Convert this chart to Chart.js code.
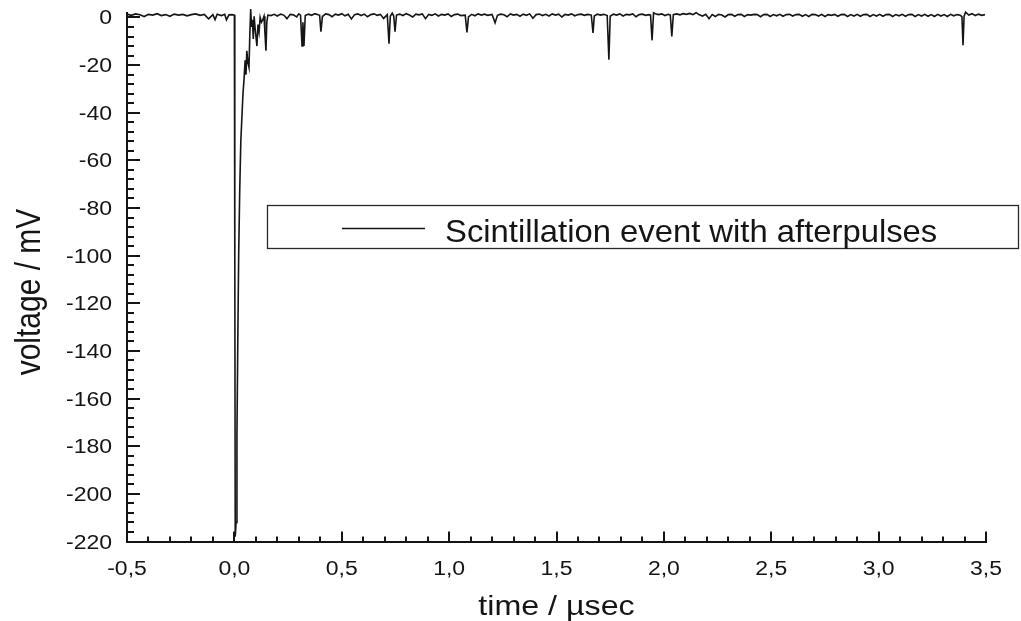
<!DOCTYPE html>
<html>
<head>
<meta charset="utf-8">
<title>Scintillation event with afterpulses</title>
<script src="https://cdn.jsdelivr.net/npm/chart.js@4/dist/chart.umd.min.js"></script>
<style>
  html, body { margin: 0; padding: 0; background: #ffffff; }
  canvas { display: block; }
</style>
</head>
<body>
<canvas id="trace" width="1021" height="621"></canvas>
<script>
// Oscilloscope trace of a PMT signal: [time in µs, voltage in mV]

// baseline before the trigger
const preTrigger = [
  [-0.500, 1.4], [-0.480, 0.9], [-0.460, 1.5], [-0.440, 1.1], [-0.420, 0.4],
  [-0.400, 1.3], [-0.380, 1.0], [-0.360, 1.6], [-0.340, 0.8], [-0.320, 1.2],
  [-0.300, 0.5], [-0.280, 1.4], [-0.260, 1.0], [-0.240, 1.3], [-0.220, 0.7],
  [-0.200, 1.2], [-0.180, 1.5], [-0.160, 0.9], [-0.140, 1.3], [-0.120, -0.6],
  [-0.100, 1.2], [-0.090, -0.9], [-0.080, 1.4], [-0.060, 0.8], [-0.045, 1.3],
  [-0.037, -1.0], [-0.025, 1.1], [-0.010, 1.2], [0.000, 1.0]
];

// main scintillation pulse and its ringing
const mainPulse = [
  [0.002, -100], [0.004, -218], [0.008, -212], [0.012, -175], [0.016, -135],
  [0.020, -100], [0.025, -72], [0.030, -52], [0.035, -42], [0.040, -32],
  [0.045, -26], [0.050, -18], [0.054, -24], [0.058, -14], [0.063, -19],
  [0.068, -21], [0.072, -7], [0.076, 3.5], [0.080, -4], [0.084, -1],
  [0.088, -9], [0.092, 0.5], [0.097, -5], [0.105, -12], [0.110, -3],
  [0.115, -6], [0.120, 0.0], [0.126, -2], [0.132, -1], [0.138, 0.5],
  [0.142, -6], [0.147, -14], [0.151, -2], [0.156, 1.0]
];

// afterpulses on the baseline after the event
const afterpulses = [
  [0.170, 0.8], [0.185, 1.3], [0.200, 0.6], [0.215, 1.4], [0.230, 1.0],
  [0.245, -0.5], [0.260, 1.3], [0.275, 1.1], [0.290, 0.2], [0.300, 1.5],
  [0.308, 1.0], [0.315, -12], [0.319, -2], [0.324, -12], [0.330, 0.8],
  [0.345, 1.4], [0.360, 0.9], [0.375, 1.6], [0.390, 1.1], [0.397, 0.9],
  [0.403, -6], [0.410, 0.4], [0.425, 1.5], [0.440, 1.2], [0.455, 0.3],
  [0.470, 1.4], [0.485, 1.0], [0.500, 1.6], [0.515, 0.7], [0.530, 1.3],
  [0.545, -0.6], [0.560, 1.2], [0.575, 1.5], [0.590, 0.8], [0.605, 1.4],
  [0.620, 0.3], [0.635, 1.2], [0.650, 1.5], [0.665, 0.9], [0.680, 1.3],
  [0.695, -0.4], [0.712, 1.2], [0.720, -11], [0.726, 0.5], [0.735, 1.8],
  [0.742, 0.6], [0.748, -6], [0.755, 1.0], [0.770, 1.4], [0.785, 0.8],
  [0.800, 1.6], [0.815, 1.0], [0.830, 0.2], [0.845, 1.4], [0.860, 1.1],
  [0.875, 1.5], [0.890, -0.5], [0.905, 1.3], [0.920, 0.9], [0.935, 1.5],
  [0.950, 0.6], [0.965, 1.3], [0.980, 1.0], [0.995, 1.5], [1.010, 0.4],
  [1.025, 1.2], [1.040, 1.4], [1.055, 0.8], [1.075, 1.0], [1.083, -6.3],
  [1.090, 0.2], [1.105, 1.3], [1.120, 0.7], [1.135, 1.5], [1.150, 1.0],
  [1.165, 1.4], [1.180, 0.9], [1.200, 1.3], [1.214, -2.2], [1.225, 0.9],
  [1.240, 1.4], [1.255, 1.1], [1.270, 0.3], [1.285, 1.5], [1.300, 1.0],
  [1.315, 1.3], [1.330, 0.5], [1.345, 1.4], [1.360, 0.9], [1.375, 1.5],
  [1.390, -0.3], [1.405, 1.2], [1.420, 1.4], [1.435, 0.8], [1.450, 1.3],
  [1.465, 0.6], [1.480, 1.5], [1.495, 1.0], [1.510, 1.4], [1.525, 0.2],
  [1.540, 1.3], [1.555, 1.0], [1.570, 1.5], [1.585, 0.7], [1.600, 1.2],
  [1.615, 1.4], [1.630, 0.9], [1.645, 1.3], [1.662, 1.0], [1.670, -6.5],
  [1.676, 0.6], [1.690, 1.4], [1.705, 1.0], [1.720, 1.3], [1.736, 0.8],
  [1.744, -17.7], [1.750, 0.5], [1.765, 1.4], [1.780, 1.0], [1.795, 1.5],
  [1.810, 0.6], [1.825, 1.3], [1.840, 1.1], [1.855, 1.5], [1.870, 0.3],
  [1.885, 1.2], [1.900, 1.4], [1.915, 0.9], [1.930, 1.2], [1.938, 1.0],
  [1.945, -9.6], [1.952, 2.0], [1.960, 1.6], [1.975, 1.2], [1.990, 1.5],
  [2.005, 0.8], [2.020, 1.3], [2.030, 1.0], [2.037, -8.0], [2.044, 1.2],
  [2.060, 1.5], [2.075, 1.1], [2.090, 1.6], [2.105, 1.3], [2.120, 1.7],
  [2.135, 1.2], [2.150, 2.0], [2.165, 1.1], [2.180, 0.6], [2.195, 1.3],
  [2.210, -0.5], [2.225, 1.2], [2.240, 0.4], [2.255, 1.3], [2.270, 1.0],
  [2.285, 0.2], [2.300, 1.2], [2.315, 1.3], [2.330, 0.5], [2.345, 1.2],
  [2.360, 1.3], [2.375, 0.4], [2.390, 1.2], [2.405, 1.0], [2.420, 1.3],
  [2.435, 1.2], [2.450, 0.3], [2.465, 1.2], [2.480, 1.3], [2.495, 0.4],
  [2.510, 1.2], [2.525, 0.7], [2.540, 1.3], [2.555, 0.5], [2.570, 1.2],
  [2.585, 1.3], [2.600, 0.6], [2.615, 1.2], [2.630, 1.3], [2.645, 0.5],
  [2.660, 1.2], [2.675, 0.4], [2.690, 1.3], [2.705, 1.2], [2.720, 0.6],
  [2.735, 1.3], [2.750, 0.4], [2.765, 1.2], [2.780, 0.9], [2.795, 1.3],
  [2.810, 0.5], [2.825, 1.2], [2.840, 1.3], [2.855, 0.4], [2.870, 1.2],
  [2.885, 0.6], [2.900, 1.3], [2.915, 0.5], [2.930, 1.2], [2.945, 1.3],
  [2.960, 0.4], [2.975, 1.2], [2.990, 0.6], [3.005, 1.3], [3.020, 0.5],
  [3.035, 1.2], [3.050, 1.3], [3.065, 0.4], [3.080, 1.2], [3.095, 0.7],
  [3.110, 1.3], [3.125, 0.5], [3.140, 1.2], [3.155, 1.3], [3.170, 0.4],
  [3.185, 1.2], [3.200, 0.6], [3.215, 1.3], [3.230, 0.5], [3.245, 1.2],
  [3.260, 0.4], [3.275, 1.3], [3.290, 0.6], [3.305, 1.2], [3.320, 0.4],
  [3.335, 1.3], [3.350, 0.7], [3.365, 1.2], [3.380, 0.9], [3.388, 0.3],
  [3.393, -11.7], [3.398, 0.5], [3.405, 2.2], [3.420, 1.0], [3.435, 1.6],
  [3.450, 0.8], [3.465, 1.4], [3.480, 0.9], [3.495, 1.2]
];

const seriesLabel = 'Scintillation event with afterpulses';

const xTickValues = [-0.5, 0.0, 0.5, 1.0, 1.5, 2.0, 2.5, 3.0, 3.5];
const xTickLabels = ['-0,5', '0,0', '0,5', '1,0', '1,5', '2,0', '2,5', '3,0', '3,5'];
const yTickValues = [0, -20, -40, -60, -80, -100, -120, -140, -160, -180, -200, -220];
const yTickLabels = ['0', '-20', '-40', '-60', '-80', '-100', '-120', '-140', '-160', '-180', '-200', '-220'];

const xTitle = 'time / \u00B5sec';
const yTitle = 'voltage / mV';

const points = preTrigger.concat(mainPulse, afterpulses).map(p => ({ x: p[0], y: p[1] }));

const INK = '#151515';
const FONT = '"Liberation Sans", Arial, Helvetica, sans-serif';

// text slightly widened, like the printed figure
function stretchedText(ctx, text, x, y, align, size, sx) {
  ctx.save();
  ctx.translate(x, y);
  ctx.scale(sx, 1);
  ctx.font = size + 'px ' + FONT;
  ctx.textAlign = align;
  ctx.textBaseline = 'alphabetic';
  ctx.fillStyle = INK;
  ctx.fillText(text, 0, 0);
  ctx.restore();
}

// inward major/minor ticks, tick labels, axis titles and the boxed legend
const axisDecor = {
  id: 'axisDecor',
  afterDraw(chart) {
    const ctx = chart.ctx;
    const xs = chart.scales.x;
    const ys = chart.scales.y;
    const area = chart.chartArea;

    ctx.save();
    ctx.strokeStyle = INK;
    ctx.lineWidth = 2;
    ctx.lineCap = 'butt';

    // y axis ticks (major every 20 mV, four minor between)
    yTickValues.forEach((v, i) => {
      const y = Math.round(ys.getPixelForValue(v));
      ctx.beginPath();
      ctx.moveTo(area.left, y);
      ctx.lineTo(area.left + 13, y);
      ctx.stroke();
      if (i < yTickValues.length - 1) {
        const next = yTickValues[i + 1];
        for (let k = 1; k < 5; k++) {
          const ym = Math.round(ys.getPixelForValue(v + (next - v) * k / 5));
          ctx.beginPath();
          ctx.moveTo(area.left, ym);
          ctx.lineTo(area.left + 7, ym);
          ctx.stroke();
        }
      }
    });

    // x axis ticks (major every 0.5 µs, four minor between)
    xTickValues.forEach((v, i) => {
      const x = Math.round(xs.getPixelForValue(v));
      ctx.beginPath();
      ctx.moveTo(x, area.bottom);
      ctx.lineTo(x, area.bottom - 10);
      ctx.stroke();
      if (i < xTickValues.length - 1) {
        const next = xTickValues[i + 1];
        for (let k = 1; k < 5; k++) {
          const xm = Math.round(xs.getPixelForValue(v + (next - v) * k / 5));
          ctx.beginPath();
          ctx.moveTo(xm, area.bottom);
          ctx.lineTo(xm, area.bottom - 5);
          ctx.stroke();
        }
      }
    });
    ctx.restore();

    // tick labels
    yTickValues.forEach((v, i) => {
      stretchedText(ctx, yTickLabels[i], 112, ys.getPixelForValue(v) + 7, 'right', 20, 1.15);
    });
    xTickValues.forEach((v, i) => {
      stretchedText(ctx, xTickLabels[i], xs.getPixelForValue(v), 575, 'center', 20, 1.15);
    });

    // axis titles
    stretchedText(ctx, xTitle, (area.left + area.right) / 2, 615, 'center', 28, 1.15);
    ctx.save();
    ctx.translate(40, 292);
    ctx.scale(1.15, 1);
    ctx.rotate(-Math.PI / 2);
    ctx.font = '30px ' + FONT;
    ctx.textAlign = 'center';
    ctx.textBaseline = 'alphabetic';
    ctx.fillStyle = INK;
    ctx.fillText(yTitle, 0, 0);
    ctx.restore();

    // legend box
    const ds = chart.data.datasets[0];
    ctx.save();
    ctx.fillStyle = '#ffffff';
    ctx.fillRect(267, 205, 752, 44);
    ctx.strokeStyle = '#2a2a2a';
    ctx.lineWidth = 1.3;
    ctx.strokeRect(267.5, 205.5, 751, 43);
    ctx.strokeStyle = ds.borderColor;
    ctx.lineWidth = 1.3;
    ctx.beginPath();
    ctx.moveTo(342, 228.5);
    ctx.lineTo(425, 228.5);
    ctx.stroke();
    ctx.restore();
    stretchedText(ctx, ds.label, 445, 242, 'left', 32, 1.025);
  }
};

new Chart(document.getElementById('trace'), {
  type: 'line',
  data: {
    datasets: [{
      label: seriesLabel,
      data: points,
      borderColor: INK,
      borderWidth: 1.6,
      pointRadius: 0,
      tension: 0,
      fill: false,
      clip: false
    }]
  },
  options: {
    responsive: false,
    animation: false,
    devicePixelRatio: 1,
    layout: { padding: { left: 127, right: 35, top: 12.7, bottom: 79.5 } },
    plugins: {
      legend: { display: false },
      tooltip: { enabled: false }
    },
    scales: {
      x: {
        type: 'linear',
        min: -0.5,
        max: 3.5,
        grid: { display: false },
        ticks: { display: false, stepSize: 0.5 },
        border: { display: true, color: INK, width: 2 },
        afterFit(scale) { scale.height = 0; }
      },
      y: {
        type: 'linear',
        min: -220,
        max: 2,
        grid: { display: false },
        ticks: { display: false, stepSize: 20 },
        border: { display: true, color: INK, width: 2 },
        afterFit(scale) { scale.width = 0; }
      }
    }
  },
  plugins: [axisDecor]
});
</script>
</body>
</html>
